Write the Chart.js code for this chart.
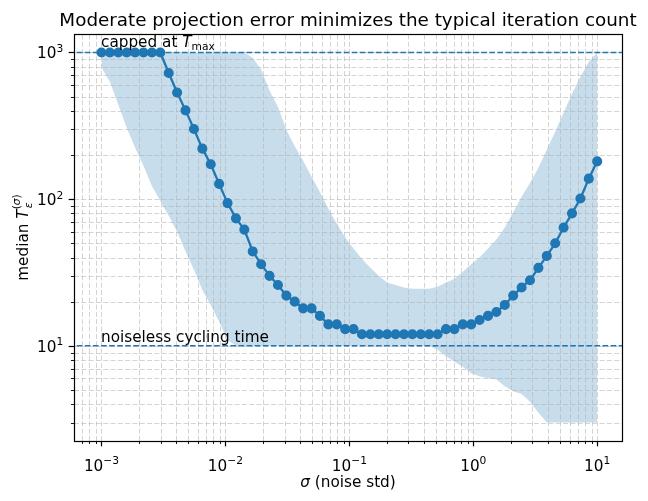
<!DOCTYPE html>
<html><head><meta charset="utf-8">
<script src="https://cdn.jsdelivr.net/npm/chart.js@4"></script>
<style>html,body{margin:0;padding:0;background:#fff;}canvas{display:block;}</style>
</head><body>
<canvas id="c" width="648" height="501"></canvas>
<script>
// ---- data ----
const sigma = [0.001,0.001169,0.001367,0.001598,0.001868,0.002183,0.002552,0.002983,0.003487,0.004076,
  0.004765,0.005570,0.006511,0.007611,0.008897,0.01040,0.01216,0.01421,0.01661,0.01942,
  0.02270,0.02653,0.03102,0.03626,0.04239,0.04955,0.05792,0.06771,0.07915,0.09252,
  0.1081,0.1264,0.1478,0.1727,0.2019,0.2360,0.2759,0.3225,0.3770,0.4407,
  0.5152,0.6022,0.7040,0.8229,0.9618,1.124,1.314,1.536,1.796,2.099,
  2.454,2.868,3.353,3.919,4.581,5.355,6.260,7.317,8.553,10];
const medianT = [1000,1000,1000,1000,1000,1000,1000,1000,725,533,
  403,301,221,173,127,94,74,62,44,36,
  30,26,22,20,18,18,16,14,14,13,
  13,12,12,12,12,12,12,12,12,12,
  12,13,13,14,14,15,16,17,19,22,
  25,28,34,41,50,64,80,101,138,181];
const bandUpper = [1000,1000,1000,1000,1000,1000,1000,1000,1000,1000,
  1000,1000,1000,1000,1000,1000,1000,1000,920,762,
  548,427,297,229,183,142,112,86,68,55,
  46,39,34,30,27,26,25,24.5,24.5,24.5,
  25.3,27,28.6,32,36,40,46,53,64,81,
  104,129,164,217,288,388,523,683,864,1000];
const bandLower = [790,631,440,307,224,169,123,97,77,60,
  44,33,24,19,14.6,11,10,10,10,10,
  10,10,10,10,10,10,10,10,10,10,
  10,10,10,10,10,10,10,10,10,10,
  9.4,8.5,7.8,7.2,6.5,6.2,6.0,5.9,5.3,4.9,
  4.7,4.15,3.5,3,3,3,3,3,3,3];
const capValue = 1000;
const noiselessValue = 10;
const xMajorTicks = [1e-3,1e-2,1e-1,1,10];
const xTickExponents = ['\u22123','\u22122','\u22121','0','1'];
const yMajorTicks = [10,100,1000];
const yTickExponents = ['1','2','3'];
const titleText = 'Moderate projection error minimizes the typical iteration count';
const capLabel = 'capped at ';
const noiselessLabel = 'noiseless cycling time';

// ---- axis limits (log margins) ----
const xMin = Math.pow(10,-3.2), xMax = Math.pow(10,1.2);
const yMin = Math.pow(10,0.351), yMax = Math.pow(10,3.126);

function minorValues(lo, hi){
  const out=[];
  for(let e=Math.floor(Math.log10(lo))-1;e<=Math.ceil(Math.log10(hi));e++){
    for(let m=1;m<10;m++){const v=m*Math.pow(10,e); if(v>=lo&&v<=hi) out.push({v,major:m===1});}
  }
  return out;
}

const C0 = '#1f77b4';
const FONT = "'DejaVu Sans'";
const PT = 1.528;           // px per point
const FS = 10*PT;           // 10pt
const FT = 12*PT;           // 12pt

function drawPow(ctx, base, exp, x, y, align, size){
  const fb = size+'px '+FONT, fe = (size*0.7)+'px '+FONT;
  ctx.font=fb; const wb=ctx.measureText(base).width;
  ctx.font=fe; const we=ctx.measureText(exp).width;
  const w=wb+we;
  let sx = align==='center'? x-w/2 : align==='right'? x-w : x;
  ctx.textAlign='left'; ctx.textBaseline='alphabetic';
  ctx.font=fb; ctx.fillText(base,sx,y);
  ctx.font=fe; ctx.fillText(exp,sx+wb,y-size*0.43);
}

const mplPlugin = {
  id:'mplLook',
  beforeDraw(chart){ chart.$gridDone=false; },
  beforeDatasetDraw(chart,args){
    if(chart.$gridDone) return;
    if(chart.data.datasets[args.index].isBand) return;
    const {ctx, chartArea:a, scales:{x,y}} = chart;
    ctx.save();
    ctx.beginPath(); ctx.rect(a.left,a.top,a.right-a.left,a.bottom-a.top); ctx.clip();
    ctx.strokeStyle='rgba(176,176,176,0.55)'; ctx.lineWidth=1; ctx.setLineDash([5,2.3]);
    for(const t of minorValues(xMin,xMax)){
      const px=Math.round(x.getPixelForValue(t.v))+0.5;
      ctx.beginPath(); ctx.moveTo(px,a.bottom); ctx.lineTo(px,a.top); ctx.stroke();
    }
    for(const t of minorValues(yMin,yMax)){
      const py=Math.round(y.getPixelForValue(t.v))+0.5;
      ctx.beginPath(); ctx.moveTo(a.left,py); ctx.lineTo(a.right,py); ctx.stroke();
    }
    ctx.restore();
    chart.$gridDone=true;
  },
  afterDraw(chart){
    const {ctx, chartArea:a, scales:{x,y}} = chart;
    ctx.save();
    // spines
    ctx.strokeStyle='#000'; ctx.lineWidth=1.2; ctx.setLineDash([]);
    ctx.strokeRect(Math.round(a.left)+0.5, Math.round(a.top)+0.5, Math.round(a.right-a.left), Math.round(a.bottom-a.top));
    // ticks
    for(const t of minorValues(xMin,xMax)){
      const px=Math.round(x.getPixelForValue(t.v))+0.5; const L=t.major?5.35:3.06;
      ctx.lineWidth=t.major?1.2:0.9;
      ctx.beginPath(); ctx.moveTo(px,a.bottom); ctx.lineTo(px,a.bottom+L); ctx.stroke();
    }
    for(const t of minorValues(yMin,yMax)){
      const py=Math.round(y.getPixelForValue(t.v))+0.5; const L=t.major?5.35:3.06;
      ctx.lineWidth=t.major?1.2:0.9;
      ctx.beginPath(); ctx.moveTo(a.left,py); ctx.lineTo(a.left-L,py); ctx.stroke();
    }
    ctx.fillStyle='#000';
    // tick labels
    xMajorTicks.forEach((v,i)=>{ drawPow(ctx,'10',xTickExponents[i],x.getPixelForValue(v),a.bottom+30,'center',FS); });
    yMajorTicks.forEach((v,i)=>{ drawPow(ctx,'10',yTickExponents[i],a.left-10.7,y.getPixelForValue(v)+6,'right',FS); });
    // title
    ctx.font=FT+'px '+FONT; ctx.textAlign='center'; ctx.textBaseline='alphabetic';
    ctx.fillText(titleText,(a.left+a.right)/2,25.5);
    // x label
    ctx.font='italic '+FS+'px '+FONT; const ws=ctx.measureText('\u03c3').width;
    ctx.font=FS+'px '+FONT; const wr=ctx.measureText(' (noise std)').width;
    let sx=(a.left+a.right)/2-(ws+wr)/2; ctx.textAlign='left';
    ctx.font='italic '+FS+'px '+FONT; ctx.fillText('\u03c3',sx,487);
    ctx.font=FS+'px '+FONT; ctx.fillText(' (noise std)',sx+ws,487);
    // y label (rotated)
    ctx.save();
    ctx.translate(28, (a.top+a.bottom)/2); ctx.rotate(-Math.PI/2);
    const sub=FS*0.7;
    ctx.font=FS+'px '+FONT; const wm=ctx.measureText('median ').width;
    ctx.font='italic '+FS+'px '+FONT; const wT=ctx.measureText('T').width;
    ctx.font='italic '+sub+'px '+FONT; const we=ctx.measureText('\u03b5').width, wsg=ctx.measureText('\u03c3').width;
    ctx.font=sub+'px '+FONT; const wp=ctx.measureText('(').width, wq=ctx.measureText(')').width;
    const wsup=wp+wsg+wq;
    const W=wm+wT+Math.max(we,wsup);
    let lx=-W/2;
    ctx.font=FS+'px '+FONT; ctx.fillText('median ',lx,0); lx+=wm;
    ctx.font='italic '+FS+'px '+FONT; ctx.fillText('T',lx,0); lx+=wT;
    ctx.font='italic '+sub+'px '+FONT; ctx.fillText('\u03b5',lx+1,3.5);
    const supY=-FS*0.5;
    ctx.font=sub+'px '+FONT; ctx.fillText('(',lx,supY);
    ctx.font='italic '+sub+'px '+FONT; ctx.fillText('\u03c3',lx+wp,supY);
    ctx.font=sub+'px '+FONT; ctx.fillText(')',lx+wp+wsg,supY);
    ctx.restore();
    // annotations
    const ax=x.getPixelForValue(sigma[0])-0.5;
    ctx.font=FS+'px '+FONT; ctx.textAlign='left';
    const capY=y.getPixelForValue(capValue)-5;
    ctx.fillText(capLabel,ax,capY); let cx=ax+ctx.measureText(capLabel).width;
    ctx.font='italic '+FS+'px '+FONT; ctx.fillText('T',cx,capY); cx+=ctx.measureText('T').width;
    ctx.font=(FS*0.7)+'px '+FONT; ctx.fillText('max',cx,capY+2.8);
    ctx.font=FS+'px '+FONT;
    ctx.fillText(noiselessLabel,ax,y.getPixelForValue(noiselessValue)-4);
    ctx.restore();
  }
};

const pts = arr => sigma.map((s,i)=>({x:s,y:arr[i]}));

new Chart(document.getElementById('c'),{
  type:'line',
  data:{datasets:[
    {data:pts(medianT),borderColor:C0,backgroundColor:C0,borderWidth:2.29,pointRadius:4.3,pointBorderWidth:1.5,
     pointBackgroundColor:C0,pointBorderColor:C0,fill:false,order:0},
    {data:[{x:xMin,y:capValue},{x:xMax,y:capValue}],borderColor:C0,borderWidth:1.5,borderDash:[5.65,2.44],pointRadius:0,fill:false,order:1},
    {data:[{x:xMin,y:noiselessValue},{x:xMax,y:noiselessValue}],borderColor:C0,borderWidth:1.5,borderDash:[5.65,2.44],pointRadius:0,fill:false,order:1},
    {data:pts(bandUpper),isBand:true,borderWidth:0,borderColor:'rgba(0,0,0,0)',pointRadius:0,fill:'+1',backgroundColor:'rgba(31,119,180,0.25)',order:3},
    {data:pts(bandLower),isBand:true,borderWidth:0,borderColor:'rgba(0,0,0,0)',pointRadius:0,fill:false,order:4}
  ]},
  options:{
    responsive:false, animation:false, events:[],
    devicePixelRatio:1,
    layout:{padding:{left:74,right:26,top:34,bottom:60}},
    elements:{line:{tension:0}},
    plugins:{legend:{display:false},tooltip:{enabled:false},title:{display:false}},
    scales:{
      x:{type:'logarithmic',min:xMin,max:xMax,ticks:{display:false},grid:{display:false},border:{display:false},
         afterFit(s){s.height=0;}},
      y:{type:'logarithmic',min:yMin,max:yMax,ticks:{display:false},grid:{display:false},border:{display:false},
         afterFit(s){s.width=0;}}
    }
  },
  plugins:[mplPlugin]
});
</script>
</body></html>
